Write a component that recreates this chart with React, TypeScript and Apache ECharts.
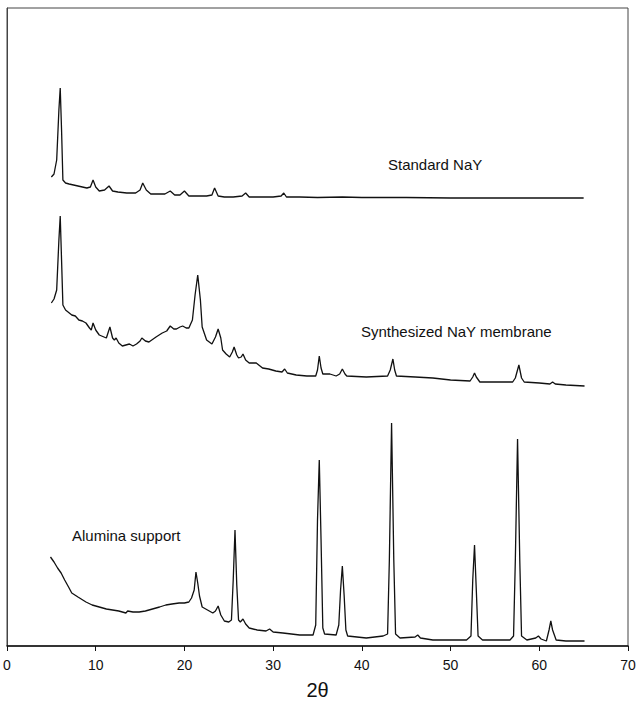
import React, { useEffect, useRef } from "react";
import * as echarts from "echarts";

// 2θ tick values
const xTicks = [0, 10, 20, 30, 40, 50, 60, 70];

// Standard NaY trace: [2θ, intensity (arb. units, stacked offset included)]
const standardNaY: [number, number][] = [
  [5.0, 469], [5.3, 472], [5.6, 486], [5.85, 536], [6.0, 558], [6.15, 516], [6.3, 466],
  [6.6, 463], [7.0, 462], [7.5, 461], [8.0, 460], [8.5, 459], [9.0, 458], [9.4, 459],
  [9.7, 466], [10.0, 459], [10.4, 455], [11.0, 456], [11.5, 460], [11.9, 455], [12.5, 454],
  [13.5, 453], [14.5, 453], [15.0, 456], [15.3, 463], [15.7, 456], [16.2, 452], [17.0, 452],
  [17.8, 452], [18.4, 455], [18.9, 451], [19.5, 451], [20.0, 455], [20.5, 450], [21.5, 450],
  [22.5, 450], [23.1, 451], [23.4, 458], [23.8, 450], [24.5, 449], [25.5, 449], [26.5, 450],
  [26.9, 453], [27.3, 449], [28.0, 449], [29.0, 449], [30.0, 449], [30.9, 450], [31.2, 453],
  [31.5, 449], [33.0, 449], [35.0, 448.5], [37.8, 449], [40.0, 448.5], [45.0, 448.5],
  [50.0, 448], [55.0, 448], [60.0, 448], [65.0, 448],
];

// Synthesized NaY membrane trace
const synthesizedNaY: [number, number][] = [
  [5.0, 343], [5.3, 347], [5.6, 356], [5.85, 406], [6.0, 430], [6.15, 386], [6.3, 341],
  [6.6, 336], [7.3, 331], [7.7, 330], [8.1, 326], [8.5, 325], [8.9, 323], [9.3, 318],
  [9.5, 316], [9.7, 323], [10.0, 316], [10.4, 311], [11.2, 308], [11.6, 319], [11.9, 308],
  [12.1, 306], [12.3, 308], [12.6, 303], [13.0, 300], [13.8, 302], [14.2, 300], [14.6, 302],
  [15.0, 305], [15.2, 308], [15.6, 305], [16.0, 304], [16.8, 309], [17.5, 313], [18.0, 315],
  [18.4, 320], [18.8, 317], [19.1, 317], [19.5, 319], [19.8, 320], [20.2, 318], [20.5, 318],
  [20.9, 326], [21.2, 351], [21.5, 371], [21.8, 346], [22.0, 319], [22.5, 306], [23.1, 302],
  [23.5, 309], [23.8, 317], [24.1, 308], [24.3, 296], [24.7, 292], [25.1, 289], [25.4, 294],
  [25.6, 299], [25.9, 291], [26.1, 288], [26.4, 289], [26.6, 292], [26.9, 286], [27.3, 283],
  [28.1, 283], [28.8, 278], [29.5, 277], [30.3, 275], [31.0, 274], [31.3, 277], [31.6, 273],
  [32.6, 271], [33.8, 270], [34.8, 270], [35.0, 276], [35.2, 290], [35.4, 278], [35.6, 272],
  [36.4, 272], [37.1, 270], [37.5, 272], [37.8, 277], [38.1, 272], [38.3, 270], [40.5, 269],
  [42.9, 270], [43.2, 276], [43.5, 287], [43.7, 276], [43.9, 270], [46.0, 269], [48.0, 268],
  [50.0, 266], [52.2, 265], [52.5, 269], [52.7, 273], [52.9, 269], [53.3, 264], [55.0, 264],
  [57.0, 264], [57.3, 268], [57.7, 281], [58.0, 268], [58.3, 264], [60.0, 263], [61.2, 262],
  [61.5, 264], [61.8, 262], [63.0, 261], [65.1, 260],
];

// Alumina support trace
const aluminaSupport: [number, number][] = [
  [4.9, 89], [5.3, 84], [5.7, 78], [6.1, 73], [6.5, 66], [7.0, 58], [7.3, 53], [8.0, 49],
  [8.9, 44], [9.6, 41], [10.4, 39], [11.2, 37], [11.9, 36], [12.6, 35], [13.4, 33],
  [13.6, 35], [14.2, 34], [14.9, 34], [15.6, 35], [16.4, 37], [17.2, 39], [17.9, 41],
  [18.6, 42], [19.4, 43], [20.0, 43], [20.5, 44], [20.8, 48], [21.1, 56], [21.3, 74],
  [21.5, 63], [21.7, 50], [22.0, 39], [22.6, 36], [23.2, 33], [23.5, 35], [23.8, 40],
  [24.1, 31], [24.5, 25], [25.0, 24], [25.3, 26], [25.5, 66], [25.7, 116], [25.9, 61],
  [26.1, 26], [26.3, 24], [26.6, 27], [26.9, 22], [27.3, 18], [28.2, 16], [29.2, 15],
  [29.6, 17], [30.0, 14], [31.1, 13], [33.0, 11], [34.5, 11], [34.8, 21], [35.0, 126],
  [35.2, 186], [35.4, 106], [35.6, 18], [35.8, 12], [37.1, 11], [37.4, 21], [37.6, 56],
  [37.8, 80], [38.0, 51], [38.2, 16], [38.4, 10], [40.5, 8], [42.4, 10], [42.9, 12],
  [43.1, 86], [43.35, 223], [43.6, 86], [43.8, 12], [44.3, 8], [46.0, 9], [46.3, 11],
  [46.6, 8], [48.0, 6], [51.8, 6], [52.3, 10], [52.5, 66], [52.7, 101], [52.9, 56],
  [53.1, 10], [53.6, 6], [56.7, 6], [57.1, 10], [57.3, 86], [57.55, 207], [57.8, 86],
  [58.0, 10], [58.6, 6], [59.6, 8], [59.9, 10], [60.2, 7], [60.8, 5], [61.1, 16],
  [61.3, 25], [61.5, 16], [61.9, 6], [63.0, 5], [65.1, 5],
];

const seriesNames = ["Standard NaY", "Synthesized NaY membrane", "Alumina support"];

export default function App() {
  const ref = useRef<HTMLDivElement>(null);
  useEffect(() => {
    if (!ref.current) return;
    const chart = echarts.init(ref.current, undefined, { renderer: "svg" });
    const font = "'Liberation Sans', Arial, sans-serif";
    const lineStyle = { color: "#111", width: 1.3 };
    chart.setOption({
      animation: false,
      backgroundColor: "#fff",
      grid: {
        left: 7, right: 12, top: 8, bottom: 62,
        show: true, borderColor: "#444", borderWidth: 1, backgroundColor: "transparent",
      },
      xAxis: {
        type: "value", min: 0, max: 70, interval: 10,
        name: "2θ", nameLocation: "middle", nameGap: 34,
        nameTextStyle: { fontFamily: font, fontSize: 20, color: "#111" },
        axisLine: { show: true, lineStyle: { color: "#111", width: 1.5 } },
        axisTick: { show: true, inside: false, length: 5, lineStyle: { color: "#111" } },
        axisLabel: {
          fontFamily: font, fontSize: 14, color: "#111", margin: 12,
          formatter: (v: number) => (xTicks.includes(v) ? String(v) : ""),
        },
        splitLine: { show: false },
      },
      yAxis: {
        type: "value", min: 0, max: 638,
        axisLine: { show: true, lineStyle: { color: "#444", width: 1 } },
        axisTick: { show: false }, axisLabel: { show: false }, splitLine: { show: false },
      },
      series: [standardNaY, synthesizedNaY, aluminaSupport].map((d, i) => ({
        name: seriesNames[i], type: "line", data: d, showSymbol: false, symbol: "none",
        lineStyle, z: 3,
      })),
      graphic: [
        { type: "text", left: 388, top: 157, style: { text: seriesNames[0], font: `15px ${font}`, fill: "#111" } },
        { type: "text", left: 361, top: 324, style: { text: seriesNames[1], font: `15px ${font}`, fill: "#111" } },
        { type: "text", left: 72, top: 528, style: { text: seriesNames[2], font: `15px ${font}`, fill: "#111" } },
      ],
    });
    return () => chart.dispose();
  }, []);
  return (
    <div
      ref={ref}
      style={{ position: "fixed", left: 0, top: 0, width: 640, height: 708, background: "#fff" }}
    />
  );
}
